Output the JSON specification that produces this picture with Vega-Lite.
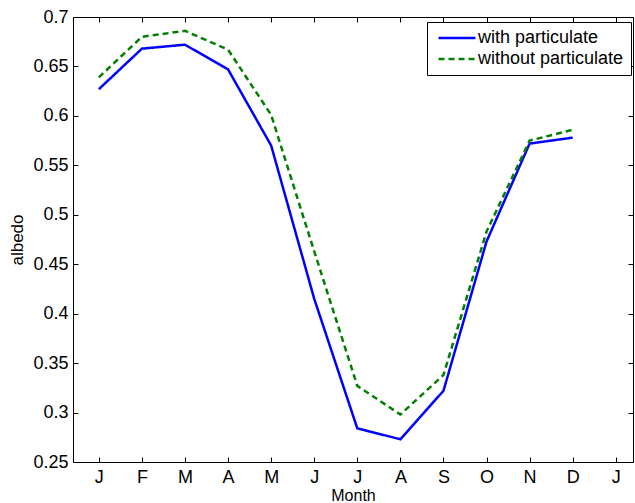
{
  "$schema": "https://vega.github.io/schema/vega-lite/v6.json",
  "width": 560,
  "height": 445,
  "autosize": "none",
  "padding": {"left": 73, "top": 17, "right": 2, "bottom": 41},
  "background": "white",
  "config": {
    "font": "Liberation Sans",
    "view": {"stroke": "black", "strokeWidth": 1},
    "axis": {
      "grid": false,
      "domain": false,
      "tickColor": "black",
      "tickSize": -5,
      "labelColor": "black",
      "labelFontSize": 18,
      "titleFontSize": 17,
      "titleFontWeight": "normal",
      "titleColor": "black"
    }
  },
  "data": {
    "values": [
      {"m": 1, "albedo": 0.627, "series": "with particulate"},
      {"m": 2, "albedo": 0.668, "series": "with particulate"},
      {"m": 3, "albedo": 0.672, "series": "with particulate"},
      {"m": 4, "albedo": 0.647, "series": "with particulate"},
      {"m": 5, "albedo": 0.570, "series": "with particulate"},
      {"m": 6, "albedo": 0.415, "series": "with particulate"},
      {"m": 7, "albedo": 0.284, "series": "with particulate"},
      {"m": 8, "albedo": 0.273, "series": "with particulate"},
      {"m": 9, "albedo": 0.322, "series": "with particulate"},
      {"m": 10, "albedo": 0.473, "series": "with particulate"},
      {"m": 11, "albedo": 0.572, "series": "with particulate"},
      {"m": 12, "albedo": 0.578, "series": "with particulate"},
      {"m": 1, "albedo": 0.639, "series": "without particulate"},
      {"m": 2, "albedo": 0.680, "series": "without particulate"},
      {"m": 3, "albedo": 0.686, "series": "without particulate"},
      {"m": 4, "albedo": 0.667, "series": "without particulate"},
      {"m": 5, "albedo": 0.601, "series": "without particulate"},
      {"m": 6, "albedo": 0.463, "series": "without particulate"},
      {"m": 7, "albedo": 0.327, "series": "without particulate"},
      {"m": 8, "albedo": 0.298, "series": "without particulate"},
      {"m": 9, "albedo": 0.338, "series": "without particulate"},
      {"m": 10, "albedo": 0.483, "series": "without particulate"},
      {"m": 11, "albedo": 0.575, "series": "without particulate"},
      {"m": 12, "albedo": 0.586, "series": "without particulate"}
    ]
  },
  "resolve": {"axis": {"x": "independent", "y": "independent"}},
  "layer": [
    {
      "mark": {"type": "line", "strokeWidth": 2.5},
      "encoding": {
        "x": {
          "field": "m", "type": "quantitative",
          "scale": {"domain": [0.4, 13.4], "nice": false, "zero": false},
          "axis": {
            "orient": "bottom",
            "values": [1,2,3,4,5,6,7,8,9,10,11,12,13],
            "labelExpr": "['J','F','M','A','M','J','J','A','S','O','N','D','J'][datum.value-1]",
            "labelPadding": 11,
            "title": "Month",
            "titleFontSize": 16,
            "titlePadding": 1
          }
        },
        "y": {
          "field": "albedo", "type": "quantitative",
          "scale": {"domain": [0.25, 0.7], "nice": false, "zero": false},
          "axis": {
            "orient": "left",
            "values": [0.25,0.3,0.35,0.4,0.45,0.5,0.55,0.6,0.65,0.7],
            "format": ".2~f",
            "labelPadding": 10,
            "title": "albedo",
            "titlePadding": 6
          }
        },
        "color": {
          "field": "series", "type": "nominal",
          "scale": {"domain": ["with particulate", "without particulate"], "range": ["#0000ff", "#008000"]},
          "legend": {
            "title": null,
            "orient": "none",
            "legendX": 354,
            "legendY": 5,
            "symbolType": "M-4.1,0H4.1",
            "symbolSize": 81,
            "symbolStrokeWidth": 2.5,
            "symbolOffset": 14,
            "labelFontSize": 18,
            "labelColor": "black",
            "fillColor": "white",
            "strokeColor": "black",
            "padding": 7,
            "rowPadding": 3,
            "labelOffset": 12
          }
        },
        "strokeDash": {
          "field": "series", "type": "nominal",
          "scale": {"domain": ["with particulate", "without particulate"], "range": [[1, 0], [6, 4]]},
          "legend": null
        }
      }
    },
    {
      "mark": {"type": "line", "opacity": 0},
      "encoding": {
        "x": {
          "field": "m", "type": "quantitative",
          "axis": {"orient": "top", "values": [1,2,3,4,5,6,7,8,9,10,11,12,13], "labels": false, "title": null}
        },
        "y": {
          "field": "albedo", "type": "quantitative",
          "axis": {"orient": "right", "values": [0.25,0.3,0.35,0.4,0.45,0.5,0.55,0.6,0.65,0.7], "labels": false, "title": null}
        }
      }
    }
  ]
}
